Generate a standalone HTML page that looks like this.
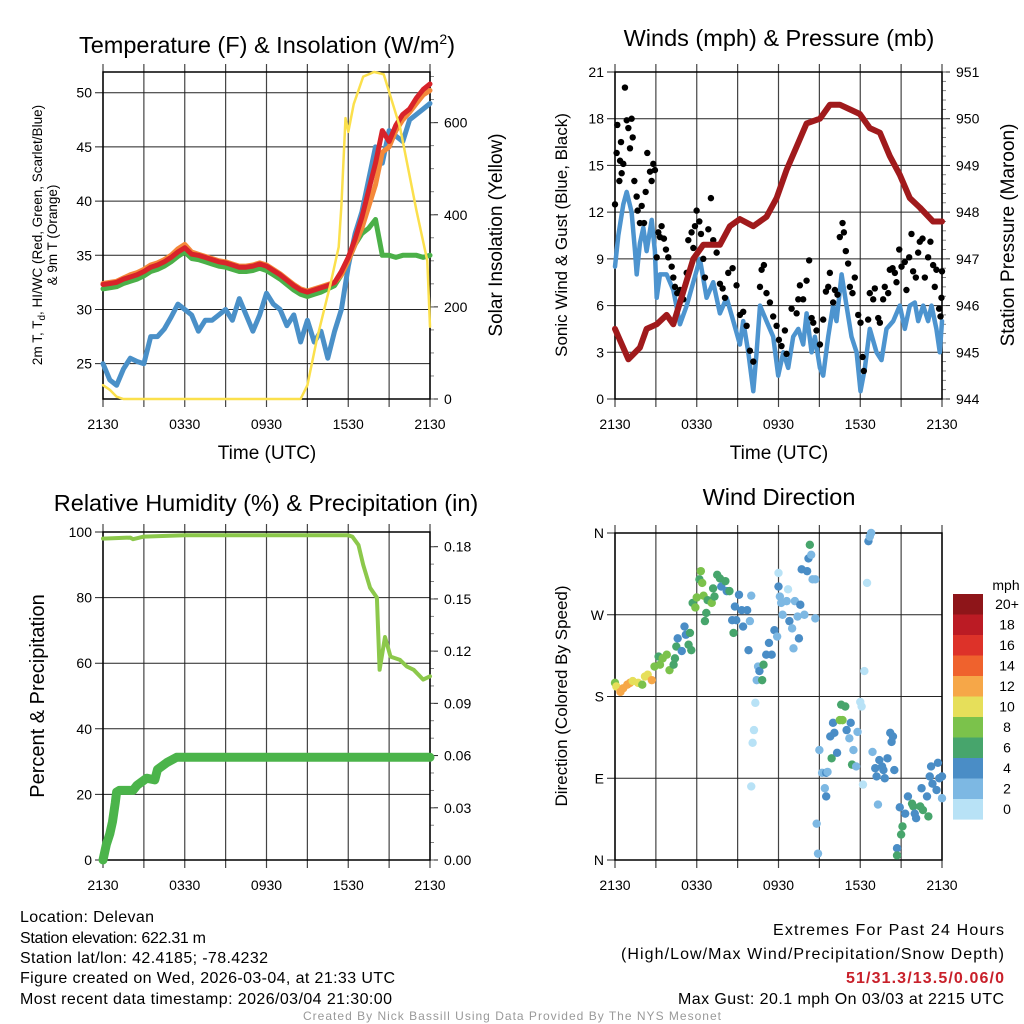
<!DOCTYPE html>
<html><head><meta charset="utf-8"><style>
html,body{margin:0;padding:0;background:#fff;}
svg{display:block;font-family:"Liberation Sans",Arial,sans-serif;}
</style></head><body>
<svg id="fig" width="1024" height="1024" viewBox="0 0 1024 1024" xmlns="http://www.w3.org/2000/svg">
<rect width="1024" height="1024" fill="#fff"/>
<g id="g1"></g>
<g id="g2"></g>
<g id="g3"></g>
<g id="g4"></g>
<text x="267" y="53" font-size="23.5" text-anchor="middle">Temperature (F) &amp; Insolation (W/m<tspan dy="-9" font-size="14">2</tspan><tspan dy="9">)</tspan></text>
<text x="779" y="46" font-size="23.5" text-anchor="middle">Winds (mph) &amp; Pressure (mb)</text>
<text x="266" y="511" font-size="23.5" text-anchor="middle">Relative Humidity (%) &amp; Precipitation (in)</text>
<text x="779" y="505" font-size="23.5" text-anchor="middle">Wind Direction</text>
<text x="267" y="459" font-size="19" text-anchor="middle">Time (UTC)</text>
<text x="779" y="459" font-size="19" text-anchor="middle">Time (UTC)</text>
<text transform="translate(42,235) rotate(-90)" font-size="13.5" text-anchor="middle">2m T, T<tspan font-size="10" dy="3">d</tspan><tspan dy="-3">, HI/WC (Red, Green, Scarlet/Blue)</tspan></text>
<text transform="translate(57,235) rotate(-90)" font-size="13.5" text-anchor="middle">&amp; 9m T (Orange)</text>
<text transform="translate(502,235) rotate(-90)" font-size="19" text-anchor="middle">Solar Insolation (Yellow)</text>
<text transform="translate(567,235) rotate(-90)" font-size="17" text-anchor="middle">Sonic Wind &amp; Gust (Blue, Black)</text>
<text transform="translate(1014,235) rotate(-90)" font-size="19" text-anchor="middle">Station Pressure (Maroon)</text>
<text transform="translate(44,696) rotate(-90)" font-size="20" text-anchor="middle">Percent &amp; Precipitation</text>
<text transform="translate(567,696) rotate(-90)" font-size="17" text-anchor="middle">Direction (Colored By Speed)</text>
<g font-size="16">
<text x="20" y="922" textLength="134">Location: Delevan</text>
<text x="20" y="943" textLength="186">Station elevation: 622.31 m</text>
<text x="20" y="963" textLength="248">Station lat/lon: 42.4185; -78.4232</text>
<text x="20" y="983" textLength="375">Figure created on Wed, 2026-03-04, at 21:33 UTC</text>
<text x="20" y="1004" textLength="372">Most recent data timestamp: 2026/03/04 21:30:00</text>
</g>
<g font-size="16">
<text x="773" y="935" textLength="231">Extremes For Past 24 Hours</text>
<text x="621" y="959" textLength="383">(High/Low/Max Wind/Precipitation/Snow Depth)</text>
<text x="846" y="983" textLength="158" fill="#c8202a" font-weight="bold">51/31.3/13.5/0.06/0</text>
<text x="678" y="1004" textLength="326">Max Gust: 20.1 mph On 03/03 at 2215 UTC</text>
</g>
<text x="512" y="1020" font-size="12" fill="#999" text-anchor="middle" textLength="418">Created By Nick Bassill Using Data Provided By The NYS Mesonet</text>
</svg>
<script>
// ---- time axis labels ----
const timeTicks = [0, 6, 12, 18, 24];
const timeTickLabels = ["2130", "0330", "0930", "1530", "2130"];
// ---- temperature panel data (hours since 2130 UTC) ----
const tempTimes = [0,0.5,1,1.5,2,2.5,3,3.5,4,4.5,5,5.5,6,6.5,7,7.5,8,8.5,9,9.5,10,10.5,11,11.5,12,12.5,13,13.5,14,14.5,15,15.5,16,16.5,17,17.5,18,18.5,19,19.5,20,20.5,21,21.5,22,22.5,23,23.5,24];
const tempRed = [32.3,32.4,32.5,32.8,33.0,33.2,33.5,33.9,34.1,34.4,34.8,35.3,35.7,35.1,35.0,34.8,34.6,34.4,34.3,34.1,33.9,33.9,34.0,34.2,34.0,33.6,33.2,32.7,32.2,31.8,31.6,31.8,32.0,32.2,32.5,33.5,34.8,36.5,38.5,41.0,43.5,46.5,45.5,47.0,48.0,48.5,49.5,50.3,50.8];
const tempOrange = [32.4,32.5,32.6,32.9,33.2,33.4,33.7,34.1,34.3,34.6,35.0,35.6,36.0,35.3,35.1,34.9,34.7,34.5,34.4,34.2,34.0,34.0,34.1,34.3,34.1,33.7,33.3,32.8,32.3,31.9,31.7,31.9,32.1,32.3,32.5,33.2,34.5,36.0,37.5,39.5,41.5,44.5,45.0,46.5,47.5,48.2,49.0,49.8,50.2];
const tempGreen = [31.9,32.0,32.1,32.4,32.6,32.8,33.1,33.5,33.7,34.0,34.4,34.9,35.3,34.7,34.6,34.4,34.2,34.0,33.9,33.7,33.5,33.5,33.6,33.8,33.6,33.2,32.8,32.3,31.8,31.4,31.2,31.4,31.6,31.9,32.2,33.2,34.5,36.0,37.0,37.5,38.3,35.0,35.0,34.8,35.0,35.0,35.0,34.8,35.0];
const tempBlue = [25.0,23.5,23.0,24.5,25.5,25.2,25.0,27.5,27.5,28.2,29.3,30.5,30.0,29.5,28.0,29.0,29.0,29.5,30.0,29.0,31.0,29.5,28.0,29.5,31.5,30.5,30.0,28.5,29.5,27.0,29.0,27.0,28.0,25.5,28.0,30.0,34.0,37.0,39.0,42.0,45.0,43.5,46.5,46.0,45.5,47.5,48.0,48.5,49.0];
const solarTimes = [0,0.5,1,1.5,14.5,15,15.7,16.7,17.3,17.5,17.8,18,18.4,19.1,19.9,20.6,21.8,23,23.8,24];
const solarValues = [30,20,5,0,0,30,130,250,330,420,610,580,640,700,710,705,590,410,300,157];
// ---- winds panel data ----
const sonicTimes = [0,0.24,0.61,0.86,1.22,1.47,1.59,1.83,2.08,2.32,2.69,2.93,3.06,3.3,3.79,4.28,4.77,5.26,5.75,6.23,6.72,7.21,7.7,8.19,8.68,9.17,9.41,9.78,10.15,10.39,10.64,11.12,11.61,11.98,12.35,12.71,13.08,13.45,13.81,14.06,14.43,14.67,15.04,15.28,15.65,16.01,16.26,16.63,16.99,17.36,17.73,18.02,18.34,18.7,19.19,19.56,19.93,20.42,20.9,21.27,21.64,22.0,22.25,22.62,22.98,23.23,23.59,23.84,24];
const sonicSpeeds = [8.5,10.5,12.5,13.3,12,9.5,8,10,11,9.5,11.5,9.5,6.5,8,8,7,4.8,6,7.5,9,6.5,7.5,5.5,6.5,5,3.5,5,3,0.5,3,6,5,4,1.5,3,2,4,4.5,3.5,5.5,3,4,2,1.5,4,6,5,8,6,4,3,0.5,2,4.5,3,2.5,4.5,5,6,4.5,6,6.2,5,6,5,6,4.5,3,5];
const gustTimes = [0,0.12,0.17,0.37,0.49,0.32,0.73,0.86,0.98,1.22,1.1,1.3,0.44,0.61,1.42,1.59,1.66,1.83,1.96,2.13,2.25,2.37,2.57,2.69,2.81,2.93,3.06,3.18,3.3,3.42,3.59,3.74,3.91,4.16,4.28,4.4,4.57,4.77,5.01,5.26,5.38,5.62,5.75,5.87,5.99,6.19,6.31,6.48,6.6,6.85,7.04,7.21,7.46,7.7,7.9,8.07,8.31,8.63,8.92,9.17,9.41,9.66,9.9,10.15,10.64,10.76,10.93,11.12,11.37,11.61,11.86,12.03,12.22,12.47,12.59,12.96,13.33,13.45,13.57,13.81,14.06,14.25,14.43,14.55,14.79,15.04,15.28,15.48,15.65,15.77,16.01,16.14,16.33,16.5,16.7,16.8,16.94,17.11,17.24,17.43,17.6,17.85,18.02,18.17,18.26,18.58,18.7,18.95,19.07,19.32,19.44,19.68,19.8,20.05,20.17,20.37,20.54,20.66,20.86,21.03,21.27,21.39,21.59,21.76,21.88,22.08,22.25,22.37,22.57,22.74,22.98,23.15,23.35,23.47,23.59,23.79,23.89,24,23.96];
const gustSpeeds = [12.5,15.8,17.6,15.3,14.5,14,20,17.9,17.4,18,16.1,16.8,16.5,15.1,14,13,12.1,11.3,12.4,11.3,13.3,15.8,14.6,14,15.1,14.7,9.1,10.7,10.4,11.1,10.3,9.6,9.1,8.5,7.8,7.2,6.8,7,6.4,8.1,10.2,10.7,9.7,11.1,12.1,11.4,10.6,9,7.8,10.9,12.9,10.2,9.4,7.4,7.1,6.5,8.1,8.4,7.3,5.4,5.6,4.7,3.1,2.4,7.2,8.3,8.6,6.8,6.2,5.3,4.7,3.8,3.4,4.4,2.9,5.8,5.5,6.4,7.3,6.4,7.6,8.9,5.2,4.9,4.4,3.5,5.1,6.9,7.2,8.1,6.2,7,6.7,10.4,11.3,10.7,9.5,8.7,7.2,6.8,7.8,5.4,4.9,2.7,1.8,5.1,6.8,6.4,7.1,5.2,4.9,6.4,7.2,6.8,8.3,8.4,8.1,7.5,9.6,8.5,8.8,7,9.1,10.6,8.2,7.8,9.4,10.1,10.3,7.8,9.1,10.1,8.6,7.2,8.3,5.8,5.3,8.2,6.5];
const pressureTimes = [0,0.98,1.83,2.32,3.06,3.79,4.28,5.01,5.75,6.48,7.7,8.43,9.17,10.15,11.12,11.86,12.59,13.33,14.06,15.04,15.77,16.5,17.24,17.97,18.7,19.44,20.17,20.9,21.64,22.37,23.35,24];
const pressureValues = [945.5,944.85,945.1,945.5,945.6,945.8,945.6,946.3,947.0,947.3,947.3,947.7,947.85,947.7,947.9,948.3,948.9,949.4,949.9,950.0,950.3,950.3,950.2,950.1,949.8,949.7,949.2,948.8,948.3,948.1,947.8,947.8];
// ---- humidity / precipitation data ----
const rhTimes = [0,2,2.2,3,6,18,18.3,18.75,19.1,19.6,20.1,20.3,20.7,21.1,21.8,22.3,22.8,23.5,24];
const rhValues = [98,98.3,97.8,98.6,99,99,98.6,96,90,83,80,58,68,62,61,59,58,55,56];
const precipTimes = [0,0.25,0.5,0.7,0.9,1.0,1.2,2.2,2.5,3.2,3.8,4.0,4.7,5.4,24];
const precipValues = [0,0.009,0.015,0.022,0.033,0.039,0.040,0.040,0.043,0.047,0.046,0.052,0.056,0.059,0.059];
// ---- wind direction data ----
const dirTimes = [0.0,0.1,0.4,0.6,0.9,1.1,1.3,1.7,2.0,2.2,2.4,2.7,2.9,3.2,3.3,3.5,3.8,4.0,4.3,4.4,4.5,4.6,4.9,5.1,5.2,5.4,5.5,5.6,5.7,5.9,6.0,6.2,6.3,6.4,6.5,6.6,6.7,6.8,7.1,7.2,7.3,7.5,7.7,7.8,8.1,8.2,8.4,8.6,8.7,8.8,8.9,9.1,9.3,9.4,9.7,9.8,9.9,10.0,10.0,10.1,10.2,10.3,10.4,10.5,10.6,10.8,10.9,11.1,11.3,11.5,11.7,11.9,12.0,12.0,12.1,12.2,12.3,12.6,12.7,12.8,13.0,13.1,13.2,13.4,13.5,13.6,13.7,13.9,14.1,14.2,14.3,14.4,14.5,14.7,14.7,14.8,14.9,15.0,15.2,15.4,15.5,15.5,15.6,15.8,15.9,16.0,16.1,16.3,16.5,16.6,16.7,16.9,17.0,17.2,17.3,17.4,17.5,17.7,17.8,18.0,18.1,18.2,18.3,18.5,18.6,18.7,18.8,18.9,19.1,19.2,19.3,19.4,19.6,19.7,19.8,20.0,20.2,20.3,20.4,20.5,20.7,20.7,20.9,21.0,21.1,21.3,21.5,21.8,21.9,22.0,22.1,22.4,22.5,22.6,22.9,23.0,23.1,23.2,23.3,23.6,23.7,23.8,24.0,24.0];
const dirDegrees = [195,191,185,189,193,195,197,195,193,202,204,198,213,224,215,222,226,209,215,222,235,244,230,257,248,237,250,231,283,278,289,309,318,305,291,263,272,286,283,299,290,314,310,301,307,296,296,264,250,279,264,292,275,257,275,231,263,291,81,129,143,173,198,213,208,198,215,226,239,226,253,246,301,316,290,283,270,285,298,263,255,233,285,268,244,281,320,270,318,332,347,336,309,266,309,40,7,121,96,79,70,96,97,136,112,151,140,118,154,171,154,169,143,134,151,105,121,103,141,174,169,83,208,305,351,356,360,119,101,92,61,110,103,99,90,112,140,130,136,99,13,5,58,28,37,51,70,62,59,51,46,59,79,55,70,48,92,103,84,77,107,90,68,92];
const dirSpeeds = [9,11,13,13,13,13,11,11,9,11,11,13,9,7,9,9,9,9,7,7,7,5,5,5,5,7,7,7,7,9,9,7,9,9,9,7,7,7,9,7,7,7,7,5,7,5,7,5,7,5,5,5,5,5,5,5,3,3,1,1,1,1,3,3,5,7,7,5,5,5,5,3,5,1,3,3,3,3,1,5,3,3,3,3,5,5,5,3,5,5,7,3,3,3,3,3,3,3,3,3,5,5,3,5,7,5,5,5,9,7,9,7,5,3,5,7,3,3,3,1,1,1,1,1,5,3,3,3,5,5,3,5,5,5,5,5,5,5,5,5,5,7,5,7,7,5,5,7,7,5,5,7,5,7,5,7,5,5,5,5,5,5,3,5];
const speedBinLabels = ["20+","18","16","14","12","10","8","6","4","2","0"];
const speedBinColors = ["#8e1519","#bb1b24","#dd3229","#ef622d","#f6a748","#e6df5a","#7bc24b","#47a56c","#4a8dc6","#7db8e3","#b8e2f6"];

const NS = "http://www.w3.org/2000/svg";
function mk(parent, tag, attrs) {
  const e = document.createElementNS(NS, tag);
  for (const k in attrs) e.setAttribute(k, attrs[k]);
  parent.appendChild(e);
  return e;
}
function scale(d0, d1, r0, r1) { return v => r0 + (v - d0) / (d1 - d0) * (r1 - r0); }

function panel(g, x0, x1, y0, y1, leftTicks, leftDom, leftLabels, rightTicks, rightDom, rightLabels, rightMinor) {
  const xs = scale(0, 24, x0, x1);
  const yl = scale(leftDom[0], leftDom[1], y1, y0);
  const yr = scale(rightDom[0], rightDom[1], y1, y0);
  for (let h = 0; h <= 24; h += 3) {
    const l = mk(g, "line", {x1: xs(h), x2: xs(h), y1: y0 - 8, y2: y1 + 8, stroke: "#444", "stroke-width": 1.2});
    
    
  }
  leftTicks.forEach((v, i) => {
    const l = mk(g, "line", {x1: x0 - 8, x2: x1, y1: yl(v), y2: yl(v), stroke: "#222", "stroke-width": 1});
    
    
    const t = mk(g, "text", {x: x0 - 11, y: yl(v) + 5, "font-size": 14, "text-anchor": "end"});
    t.textContent = leftLabels[i];
    
    
  });
  rightTicks.forEach((v, i) => {
    const l = mk(g, "line", {x1: x1, x2: x1 + 8, y1: yr(v), y2: yr(v), stroke: "#222", "stroke-width": 1});
    
    
    const t = mk(g, "text", {x: x1 + 14, y: yr(v) + 5, "font-size": 14});
    t.textContent = rightLabels[i];
    
    
  });
  rightMinor.forEach(v => {
    const l = mk(g, "line", {x1: x1, x2: x1 + 4, y1: yr(v), y2: yr(v), stroke: "#666", "stroke-width": 0.8});
    
    
  });
  const fr = mk(g, "rect", {x: x0, y: y0, width: x1 - x0, height: y1 - y0, fill: "none", stroke: "#000", "stroke-width": 1.5});
  
  
  timeTicks.forEach((h, i) => {
    const t = mk(g, "text", {x: xs(h), y: y1 + 30, "font-size": 14, "text-anchor": "middle"});
    t.textContent = timeTickLabels[i];
    
    
  });
  return {xs, yl, yr};
}
function path(g, times, vals, xs, ys, color, w, name) {
  const d = times.map((t, i) => (i ? "L" : "M") + xs(t).toFixed(1) + "," + ys(vals[i]).toFixed(1)).join("");
  const p = mk(g, "path", {d: d, fill: "none", stroke: color, "stroke-width": w, "stroke-linejoin": "round", "stroke-linecap": "round"});
  
  
  return p;
}
function range(a, b, s) { const r = []; for (let v = a; v <= b + 1e-9; v += s) r.push(+v.toFixed(4)); return r; }

const g1 = document.getElementById("g1");
const a1 = panel(g1, 103, 430, 72, 399, [25,30,35,40,45,50], [21.74, 51.91], ["25","30","35","40","45","50"],
  [0,200,400,600], [0, 710], ["0","200","400","600"], range(0, 700, 50));
path(g1, tempTimes, tempBlue, a1.xs, a1.yl, "#4a90c8", 5, "dewpoint-line");
path(g1, tempTimes, tempGreen, a1.xs, a1.yl, "#4bb048", 5, "heat-index-line");
path(g1, tempTimes, tempOrange, a1.xs, a1.yl, "#f4893a", 5, "9m-temperature-line");
path(g1, tempTimes, tempRed, a1.xs, a1.yl, "#d8232a", 5, "2m-temperature-line");
path(g1, solarTimes, solarValues, a1.xs, a1.yr, "#fbe04c", 2.5, "solar-insolation-line");

const g2 = document.getElementById("g2");
const a2 = panel(g2, 615, 942, 72, 399, [0,3,6,9,12,15,18,21], [0, 21], ["0","3","6","9","12","15","18","21"],
  [944,945,946,947,948,949,950,951], [944, 951], ["944","945","946","947","948","949","950","951"], range(944, 951, 0.2));
path(g2, sonicTimes, sonicSpeeds, a2.xs, a2.yl, "#4d94cf", 4.5, "sonic-wind-line");
gustTimes.forEach((t, i) => {
  const c = mk(g2, "circle", {cx: a2.xs(t), cy: a2.yl(gustSpeeds[i]), r: 3.2, fill: "#000"});
  
  
});
path(g2, pressureTimes, pressureValues, a2.xs, a2.yr, "#a01a1c", 6, "pressure-line");

const g3 = document.getElementById("g3");
const a3 = panel(g3, 103, 430, 532, 860, [0,20,40,60,80,100], [0, 100], ["0","20","40","60","80","100"],
  [0,0.03,0.06,0.09,0.12,0.15,0.18], [0, 0.18845], ["0.00","0.03","0.06","0.09","0.12","0.15","0.18"], range(0, 0.18, 0.01));
path(g3, rhTimes, rhValues, a3.xs, a3.yl, "#8cc84b", 4, "relative-humidity-line");
path(g3, precipTimes, precipValues, a3.xs, a3.yr, "#4bb44a", 9, "precipitation-line");

const g4 = document.getElementById("g4");
const a4 = panel(g4, 615, 942, 533, 860, [0,90,180,270,360], [0, 360], ["N","E","S","W","N"], [], [0,1], [], []);
function binIndex(s) { const i = Math.min(10, Math.floor(s / 2)); return 10 - i; }
dirTimes.forEach((t, i) => {
  const c = mk(g4, "circle", {cx: a4.xs(t), cy: a4.yl(dirDegrees[i]), r: 4.2, fill: speedBinColors[binIndex(dirSpeeds[i])]});
  
  
});
const cb = mk(g4, "g", {});


const mph = mk(cb, "text", {x: 1006, y: 590, "font-size": 14, "text-anchor": "middle"});
mph.textContent = "mph";


speedBinLabels.forEach((lab, i) => {
  const y = 594 + i * 20.5;
  const r = mk(cb, "rect", {x: 953, y: y, width: 30, height: 20.6, fill: speedBinColors[i]});
  
  
  const t = mk(cb, "text", {x: 1007, y: y + 15, "font-size": 14, "text-anchor": "middle"});
  t.textContent = lab;
  
  
});
</script>
</body></html>
